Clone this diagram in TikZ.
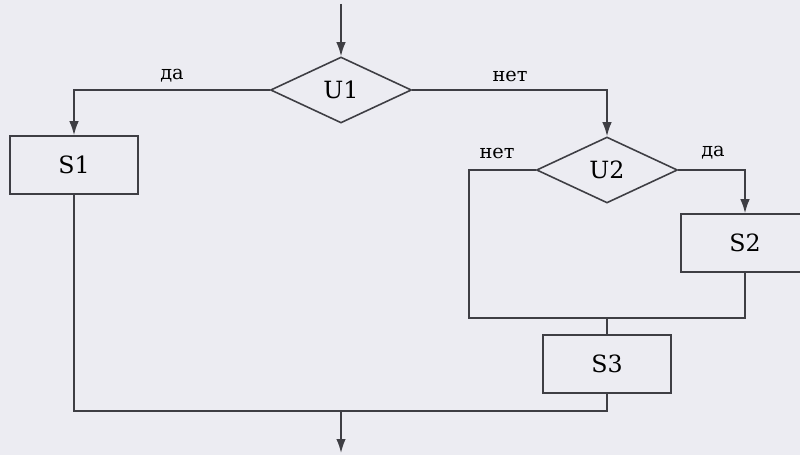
\documentclass[tikz,border=0pt]{standalone}
\usepackage{fontspec}
\setmainfont{DejaVu Serif}
\usetikzlibrary{shapes.geometric,arrows.meta}

\definecolor{paper}{RGB}{236,236,242}
\definecolor{ink}{RGB}{62,62,68}

\tikzset{
  block/.style={draw=ink, line width=0.9pt, minimum width=2.56cm, minimum height=1.16cm, font=\fontsize{13.5}{15}\selectfont},
  cond/.style={diamond, draw=ink, line width=0.9pt, inner sep=0pt, minimum width=2.82cm, minimum height=1.32cm, font=\fontsize{13.5}{15}\selectfont},
  flow/.style={draw=ink, line width=0.9pt},
  answer/.style={font=\fontsize{11}{13}\selectfont}
}

\begin{document}
\begin{tikzpicture}[x=0.02cm, y=-0.02cm, >={Latex[length=2.8mm,width=1.9mm]}]
    \useasboundingbox (0,0) rectangle (800,455);
    \fill[paper] (0,0) rectangle (800,455);
    \clip (0,0) rectangle (800,455);

    % decisions and actions
    \node[cond]  (u1) at (341,90)  {U1};
    \node[block] (s1) at (74,165)  {S1};
    \node[cond]  (u2) at (607,170) {U2};
    \node[block] (s2) at (745,243) {S2};
    \node[block] (s3) at (607,364) {S3};

    \coordinate (in)  at (341,4);
    \coordinate (out) at (341,453);
    \coordinate (m1)  at (469,318);
    \coordinate (m3)  at (341,411);

    % branch labels
    \node[answer] (l1) at (172,76)  {да};
    \node[answer] (l2) at (510,76)  {нет};
    \node[answer] (l3) at (497,153) {нет};
    \node[answer] (l4) at (713,153) {да};

    % connectors
    \draw[flow, ->] (in) -- (u1);
    \draw[flow, ->] (u1.west) -| (s1.north);
    \draw[flow, ->] (u1.east) -| (u2.north);
    \draw[flow, ->] (u2.east) -| (s2.north);
    \draw[flow] (u2.west) -| (m1) -| (s2.south);
    \draw[flow] (s3.north) -- (s3.north |- m1);
    \draw[flow] (s1.south) |- (m3) -| (s3.south);
    \draw[flow, ->] (m3) -- (out);
\end{tikzpicture}
\end{document}
